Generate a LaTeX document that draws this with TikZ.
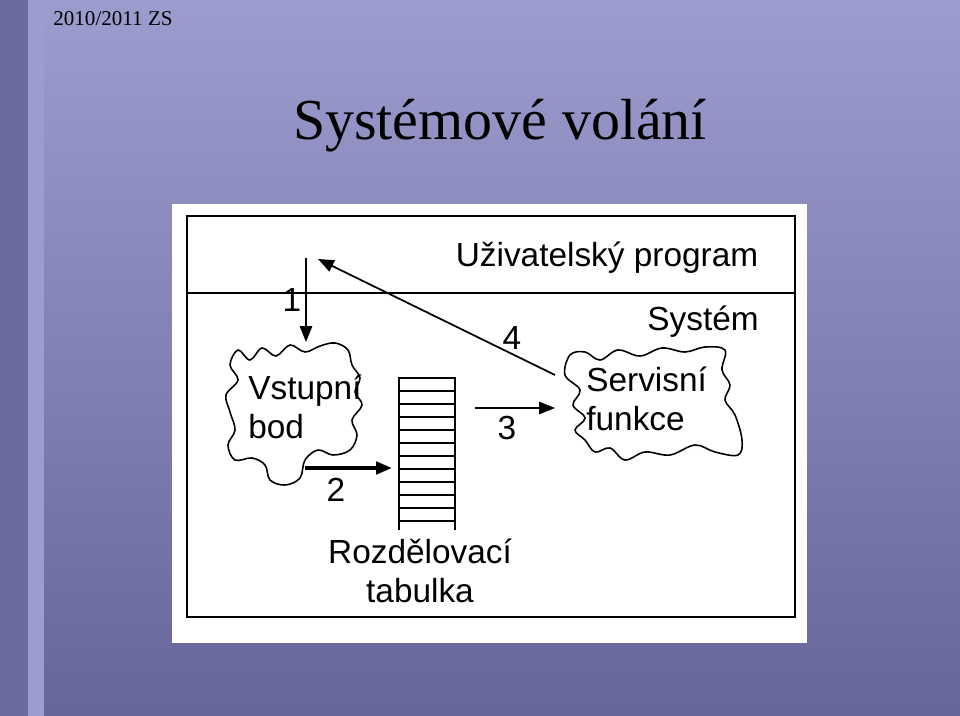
\documentclass[tikz,border=0pt]{standalone}
\usepackage{fontspec}
\setmainfont{Liberation Serif}
\newfontfamily\arialfont{Liberation Sans}
\usetikzlibrary{arrows.meta,positioning}
\definecolor{slidetop}{HTML}{9C9CCE}
\definecolor{slidebot}{HTML}{66669A}
\definecolor{stripedark}{HTML}{6A6A9C}
\tikzset{
        % diagram labels
        label_text/.style={font=\arialfont\fontsize{19}{22.5}\selectfont, inner sep=0pt},
        % step arrows
        step_arrow/.style={-{Triangle[length=9pt,width=7pt]}, line width=1pt},
        % wiggly blobs
        blob_line/.style={line width=0.9pt, fill=white}
}
\begin{document}
\begin{tikzpicture}[x=0.02cm, y=-0.02cm]
    \useasboundingbox (0,0) rectangle (960,716);
    % slide background
    \shade[top color=slidetop, bottom color=slidebot] (0,0) rectangle (960,716);
    \fill[stripedark] (0,0) rectangle (28,716);
    \fill[slidetop] (28,0) rectangle (44,716);
    \node[font=\fontsize{12}{14}\selectfont, anchor=west, inner sep=0pt] (term) at (53,19) {2010/2011 ZS};
    \node[font=\fontsize{33}{40}\selectfont] (title) at (500,126) {Systémové volání};
    % panel
    \fill[white] (172,204) rectangle (807,643);
    \draw[line width=1.2pt] (187,216) rectangle (795,617);
    \draw[line width=0.8pt] (187,293) -- (795,293);
    \node[label_text] (user) at (607,258) {Uživatelský program};
    \node[label_text] (sys) at (703,322) {Systém};
    % blobs
    \draw[blob_line] plot[smooth cycle, tension=0.6] coordinates {
        (238,350) (250,360) (262,348) (276,356) (290,345) (305,352) (320,346) (335,343)
        (348,350) (352,365) (360,378) (355,392) (362,405) (352,420) (357,435) (350,450)
        (333,455) (318,450) (305,460) (300,478) (285,485) (270,480) (265,465) (252,458)
        (235,460) (228,445) (235,430) (230,412) (226,395) (238,380) (230,365)};
    \draw[blob_line] plot[smooth cycle, tension=0.6] coordinates {
        (570,355) (585,352) (600,360) (618,350) (640,356) (662,348) (685,352) (705,347)
        (725,350) (722,370) (730,385) (725,400) (735,415) (742,440) (738,455) (715,452)
        (695,445) (670,455) (645,452) (625,460) (610,448) (595,452) (585,440) (575,430)
        (585,418) (573,405) (580,390) (565,375)};
    \node[label_text, anchor=west, align=left] (entry) at (248,407) {Vstupní\\bod};
    \node[label_text, anchor=west, align=left] (service) at (586,399) {Servisní\\funkce};
    % table
    \draw[line width=0.9pt] (399,530) -- (399,378) -- (455,378) -- (455,530);
    \foreach \r in {1,...,11}
        \draw[line width=0.7pt] (399,378+\r*13) -- (455,378+\r*13);
    \node[label_text, align=center] (tab) at (420,571) {Rozdělovací\\tabulka};
    % connectors
    \coordinate (a1) at (306,258);
    \coordinate (b1) at (306,342);
    \coordinate (a2) at (305,468);
    \coordinate (b2) at (392,468);
    \coordinate (a3) at (475,408);
    \coordinate (b3) at (555,408);
    \coordinate (a4) at (555,375);
    \coordinate (b4) at (318,259);
    \draw[step_arrow] (a1) -- (b1);
    \draw[step_arrow, line width=2pt] (a2) -- (b2);
    \draw[step_arrow] (a3) -- (b3);
    \draw[step_arrow] (a4) -- (b4);
    \node[label_text] (n1) at (292,300) {1};
    \node[label_text] (n2) at (336,490) {2};
    \node[label_text] (n3) at (507,428) {3};
    \node[label_text] (n4) at (512,338) {4};
\end{tikzpicture}
\end{document}
